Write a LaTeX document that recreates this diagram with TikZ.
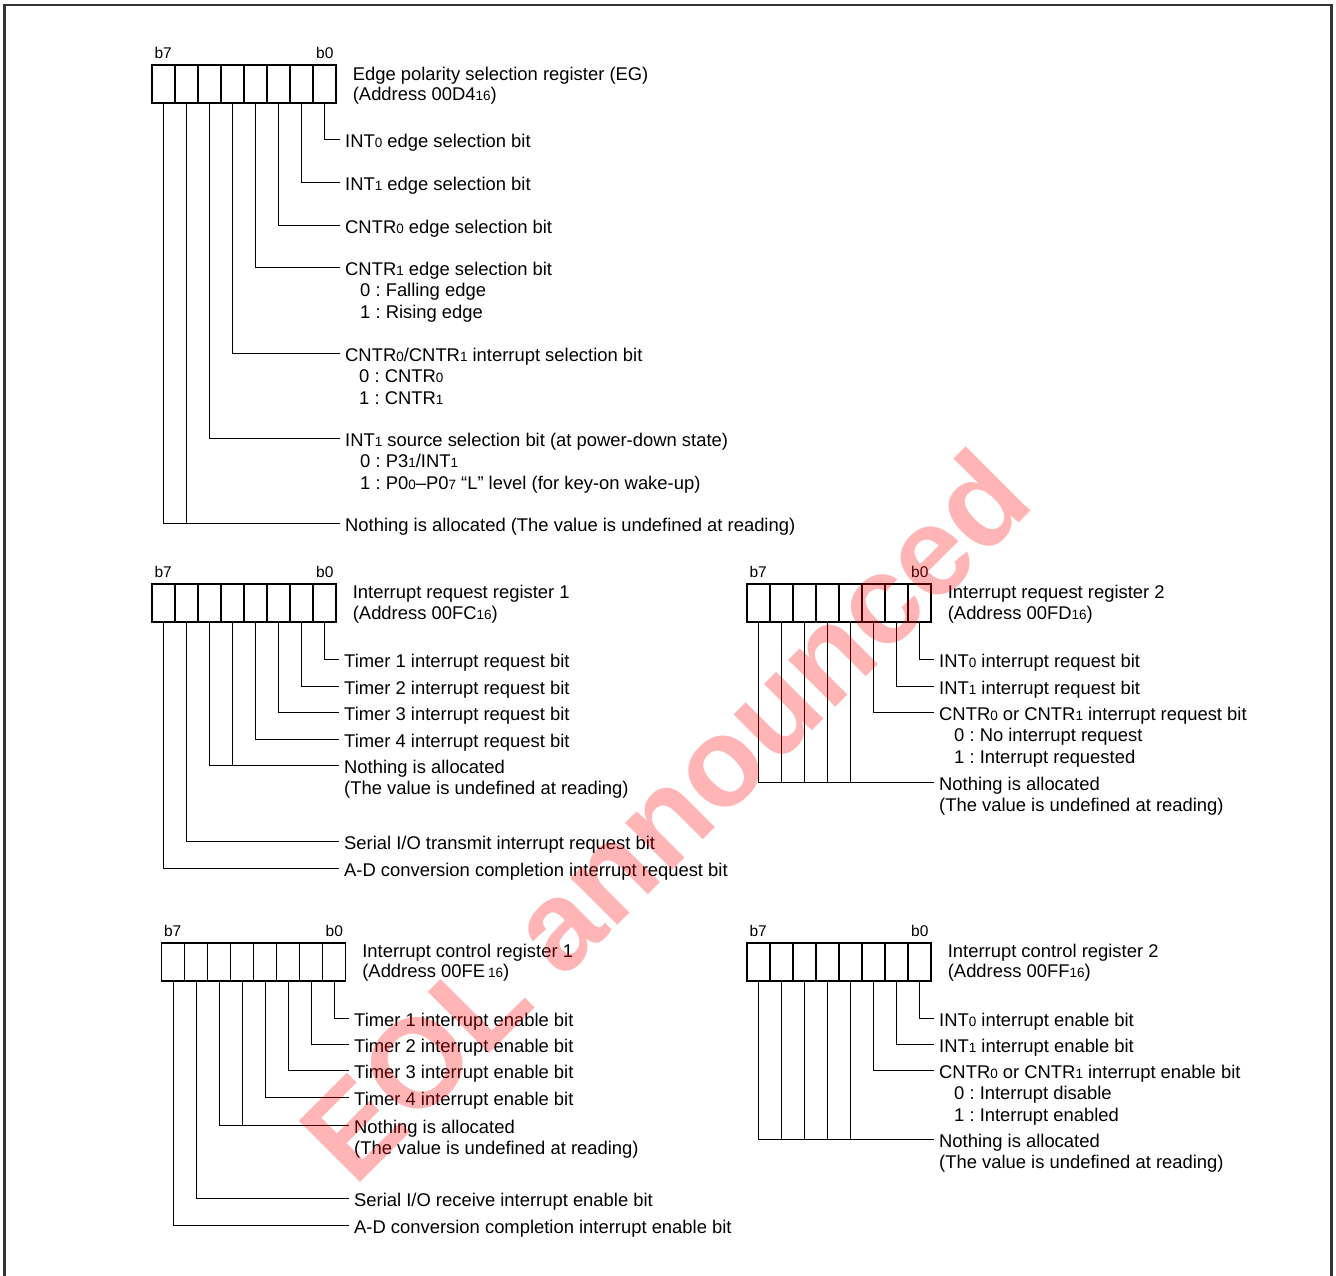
\documentclass[tikz,border=0pt]{standalone}
\usepackage{fontspec}
\setmainfont{Liberation Sans}
\usepackage{tikz}

\newcommand{\idx}[1]{{\fontsize{13.5}{13.5}\selectfont #1}}
\newcommand{\stackrows}[1]{\begin{tabular}[t]{@{}l@{}}#1\end{tabular}}
\frenchspacing

\begin{document}
\begin{tikzpicture}[x=1pt,y=-1pt,
		cell/.style={draw,line width=1.3pt,minimum width=23pt,minimum height=38pt,inner sep=0pt},
		bitno/.style={font=\fontsize{15.5}{15.5}\selectfont,inner sep=0pt},
		regname/.style={anchor=base west,inner xsep=5pt,inner ysep=0pt,font=\fontsize{18.4}{20.5}\selectfont},
		lbl/.style={anchor=base west,inner xsep=5pt,inner ysep=0pt,font=\fontsize{18.4}{21.3}\selectfont},
		lead/.style={line width=1pt},
		frame/.style={line width=2.5pt,draw=black!80},
		wmark/.style={rotate=45,text=red,text opacity=0.29,inner sep=0pt,font=\fontsize{126}{126}\selectfont\bfseries}]
		\useasboundingbox (0,0) rectangle (1336,1275);
		\draw[frame] (4.5,1280) -- (4.5,5) -- (1331.5,5) -- (1331.5,1280);

		\foreach \i in {0,...,7} {
			\node[cell] (eg\i) at ({163.5+23*(7-\i)},84) {};
			\node[cell] (irqa\i) at ({163.5+23*(7-\i)},603) {};
			\node[cell] (irqb\i) at ({758.5+23*(7-\i)},603) {};
			\node[cell] (ica\i) at ({173+23*(7-\i)},962) {};
			\node[cell] (icb\i) at ({758.5+23*(7-\i)},962) {};
		}
		\foreach \r in {eg,irqa,irqb,ica,icb} {
			\node[bitno,anchor=base west] (\r b7) at ([shift={(3pt,6pt)}]\r7.north west) {b7};
			\node[bitno,anchor=base east] (\r b0) at ([shift={(-3pt,6pt)}]\r0.north east) {b0};
		}

		\node[regname] (egname) at ([shift={(11pt,-16pt)}]eg0.north east) {\stackrows{Edge polarity selection register (EG)\\(Address 00D4\idx{16})}};
		\node[regname] (irqaname) at ([shift={(11pt,-15.5pt)}]irqa0.north east) {\stackrows{Interrupt request register 1\\(Address 00FC\idx{16})}};
		\node[regname] (irqbname) at ([shift={(11pt,-15.5pt)}]irqb0.north east) {\stackrows{Interrupt request register 2\\(Address 00FD\idx{16})}};
		\node[regname] (icaname) at ([shift={(11pt,-15pt)}]ica0.north east) {\stackrows{Interrupt control register 1\\(Address 00FE\,\idx{16})}};
		\node[regname] (icbname) at ([shift={(11pt,-15pt)}]icb0.north east) {\stackrows{Interrupt control register 2\\(Address 00FF\idx{16})}};

		\node[lbl] (int0edge) at (340,147.5) {INT\idx{0} edge selection bit};
		\node[lbl] (int1edge) at (340,190.5) {INT\idx{1} edge selection bit};
		\node[lbl] (cntr0edge) at (340,233.5) {CNTR\idx{0} edge selection bit};
		\node[lbl] (cntr1edge) at (340,275.5) {\stackrows{CNTR\idx{1} edge selection bit\\\hspace*{15pt}0 : Falling edge\\\hspace*{15pt}1 : Rising edge}};
		\node[lbl] (cntrsel) at (340,361.5) {\stackrows{CNTR\idx{0}/CNTR\idx{1} interrupt selection bit\\\hspace*{14pt}0 : CNTR\idx{0}\\\hspace*{14pt}1 : CNTR\idx{1}}};
		\node[lbl] (int1src) at (340,446.5) {\stackrows{INT\idx{1} source selection bit (at power-down state)\\\hspace*{15pt}0 : P3\idx{1}/INT\idx{1}\\\hspace*{15pt}1 : P0\idx{0}–P0\idx{7} “L” level (for key-on wake-up)}};
		\node[lbl] (egfree) at (340,531.5) {Nothing is allocated (The value is undefined at reading)};

		\node[lbl] (tm1req) at (339,667.5) {Timer 1 interrupt request bit};
		\node[lbl] (tm2req) at (339,694.5) {Timer 2 interrupt request bit};
		\node[lbl] (tm3req) at (339,720.5) {Timer 3 interrupt request bit};
		\node[lbl] (tm4req) at (339,747.5) {Timer 4 interrupt request bit};
		\node[lbl] (irqafree) at (339,773.5) {\stackrows{Nothing is allocated\\(The value is undefined at reading)}};
		\node[lbl] (siotxreq) at (339,849.5) {Serial I/O transmit interrupt request bit};
		\node[lbl] (adreq) at (339,876.5) {A-D conversion completion interrupt request bit};

		\node[lbl] (int0req) at (934,667.5) {INT\idx{0} interrupt request bit};
		\node[lbl] (int1req) at (934,694.5) {INT\idx{1} interrupt request bit};
		\node[lbl] (cntrreq) at (934,720.5) {\stackrows{CNTR\idx{0} or CNTR\idx{1} interrupt request bit\\\hspace*{15pt}0 : No interrupt request\\\hspace*{15pt}1 : Interrupt requested}};
		\node[lbl] (irqbfree) at (934,790.5) {\stackrows{Nothing is allocated\\(The value is undefined at reading)}};

		\node[lbl] (tm1en) at (349,1026.5) {Timer 1 interrupt enable bit};
		\node[lbl] (tm2en) at (349,1052.5) {Timer 2 interrupt enable bit};
		\node[lbl] (tm3en) at (349,1078.5) {Timer 3 interrupt enable bit};
		\node[lbl] (tm4en) at (349,1105.5) {Timer 4 interrupt enable bit};
		\node[lbl] (icafree) at (349,1133.5) {\stackrows{Nothing is allocated\\(The value is undefined at reading)}};
		\node[lbl] (siorxen) at (349,1206.5) {Serial I/O receive interrupt enable bit};
		\node[lbl] (aden) at (349,1233.5) {A-D conversion completion interrupt enable bit};

		\node[lbl] (int0en) at (934,1026.5) {INT\idx{0} interrupt enable bit};
		\node[lbl] (int1en) at (934,1052.5) {INT\idx{1} interrupt enable bit};
		\node[lbl] (cntren) at (934,1078.5) {\stackrows{CNTR\idx{0} or CNTR\idx{1} interrupt enable bit\\\hspace*{15pt}0 : Interrupt disable\\\hspace*{15pt}1 : Interrupt enabled}};
		\node[lbl] (icbfree) at (934,1147.5) {\stackrows{Nothing is allocated\\(The value is undefined at reading)}};

		\foreach \b/\t in {eg0/int0edge,eg1/int1edge,eg2/cntr0edge,eg3/cntr1edge,eg4/cntrsel,eg5/int1src,eg6/egfree,eg7/egfree,
				irqa0/tm1req,irqa1/tm2req,irqa2/tm3req,irqa3/tm4req,irqa4/irqafree,irqa5/irqafree,irqa6/siotxreq,irqa7/adreq,
				irqb0/int0req,irqb1/int1req,irqb2/cntrreq,irqb3/irqbfree,irqb4/irqbfree,irqb5/irqbfree,irqb6/irqbfree,irqb7/irqbfree,
				ica0/tm1en,ica1/tm2en,ica2/tm3en,ica3/tm4en,ica4/icafree,ica5/icafree,ica6/siorxen,ica7/aden,
				icb0/int0en,icb1/int1en,icb2/cntren,icb3/icbfree,icb4/icbfree,icb5/icbfree,icb6/icbfree,icb7/icbfree}
			\draw[lead] (\b.south) |- ([yshift=8pt]\t.base west);

		\node[wmark] (eol) at (664,815) {EOL announced};
\end{tikzpicture}
\end{document}
